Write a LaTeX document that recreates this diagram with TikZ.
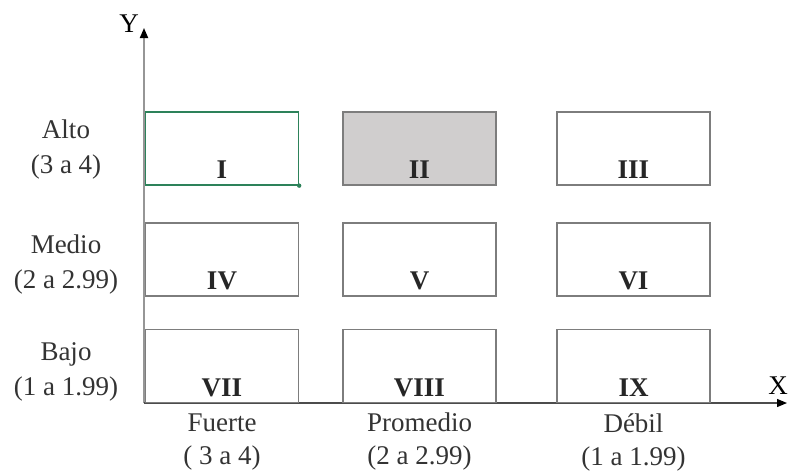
\documentclass[tikz,border=0pt]{standalone}
\usepackage{fontspec}
\setmainfont{Liberation Serif}
\usetikzlibrary{arrows.meta,positioning}
\definecolor{boxgray}{RGB}{125,125,125}
\definecolor{axisgray}{RGB}{150,150,150}
\definecolor{selgreen}{RGB}{45,130,90}
\definecolor{shade}{RGB}{208,206,206}
\tikzset{
  cell/.style={draw=boxgray,line width=1.3pt,minimum width=153pt,minimum height=73pt,inner sep=0pt},
  num/.style={font=\fontsize{27}{30}\selectfont\bfseries,text=black!85,inner sep=0pt,anchor=base},
  lab/.style={font=\fontsize{27}{35}\selectfont,text=black!80,align=center,inner sep=0pt},
  tip/.style={-{Triangle[length=10pt,width=8pt,color=black]}},
}
\begin{document}
\begin{tikzpicture}[x=1pt,y=-1pt]
\useasboundingbox (0,0) rectangle (788,472);
% ejes
\coordinate (O) at (144,403);
\coordinate (ytop) at (144,28);
\coordinate (xend) at (787,403);
\draw[axisgray,line width=1.8pt,tip] (O)--(ytop);
\draw[black!70,line width=1.3pt,tip] (O)--(xend);
\node[lab,text=black] (ylab) at (129,24) {Y};
\node[lab,text=black] (xlab) at (778,386) {X};
% cuadrantes
\node[cell,draw=selgreen] (c1) at (222,148.5) {};
\node[cell,fill=shade] (c2) at (419.5,148.5) {};
\node[cell] (c3) at (633.5,148.5) {};
\node[cell] (c4) at (222,259.5) {};
\node[cell] (c5) at (419.5,259.5) {};
\node[cell] (c6) at (633.5,259.5) {};
\node[cell] (c7) at (222,366) {};
\node[cell] (c8) at (419.5,366) {};
\node[cell] (c9) at (633.5,366) {};
\fill[selgreen] (c1.south east) circle (2.2);
\node[num] (n1) at ([yshift=7pt]c1.south) {I};
\node[num] (n2) at ([yshift=7pt]c2.south) {II};
\node[num] (n3) at ([yshift=7pt]c3.south) {III};
\node[num] (n4) at ([yshift=7pt]c4.south) {IV};
\node[num] (n5) at ([yshift=7pt]c5.south) {V};
\node[num] (n6) at ([yshift=7pt]c6.south) {VI};
\node[num] (n7) at ([yshift=7pt]c7.south) {VII};
\node[num] (n8) at ([yshift=7pt]c8.south) {VIII};
\node[num] (n9) at ([yshift=7pt]c9.south) {IX};
% etiquetas
\node[lab] (alto) at (66,150) {Alto\\(3 a 4)};
\node[lab] (medio) at (66,265) {Medio\\(2 a 2.99)};
\node[lab] (bajo) at (66,372) {Bajo\\(1 a 1.99)};
\node[lab,font=\fontsize{27}{33}\selectfont] (fuerte) at (222,442) {Fuerte\\( 3 a 4)};
\node[lab,font=\fontsize{27}{33}\selectfont] (prom) at (419.5,442) {Promedio\\(2 a 2.99)};
\node[lab,font=\fontsize{27}{33}\selectfont] (debil) at (633.5,442) {Débil\\(1 a 1.99)};
\end{tikzpicture}
\end{document}
